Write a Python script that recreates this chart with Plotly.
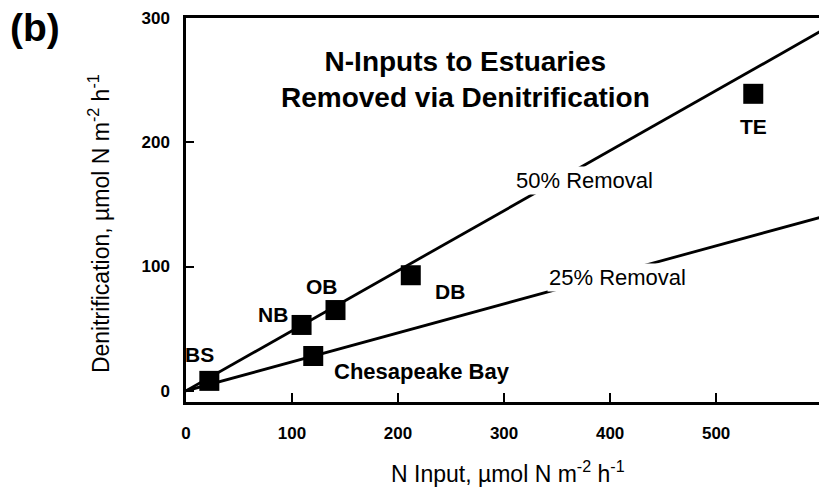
import plotly.graph_objects as go

# Data
sites = ["BS", "NB", "OB", "DB", "Chesapeake Bay", "TE"]
n_input = [22, 109, 141, 212, 120, 535]
denitrification = [8, 53, 65, 93, 28, 239]

line_x = [0, 600]
removal_50 = [0, 290]
removal_25 = [0, 140]

x_ticks = [0, 100, 200, 300, 400, 500]
y_ticks = [0, 100, 200, 300]

FONT = "Liberation Sans, Arial, Helvetica, sans-serif"

fig = go.Figure()
fig.add_trace(go.Scatter(x=line_x, y=removal_50, mode="lines",
                         line=dict(color="black", width=2.8), hoverinfo="skip"))
fig.add_trace(go.Scatter(x=line_x, y=removal_25, mode="lines",
                         line=dict(color="black", width=2.8), hoverinfo="skip"))
fig.add_trace(go.Scatter(x=n_input, y=denitrification, mode="markers",
                         marker=dict(symbol="square", size=20, color="black"),
                         text=sites))

# Site labels (offsets in pixels)
label_pos = {
    "BS": (-10, 26, "center"),
    "NB": (-29, 10, "center"),
    "OB": (-14, 24, "center"),
    "DB": (39, -16, "center"),
    "Chesapeake Bay": (19, -15, "left"),
    "TE": (0, -33, "center"),
}
for s, x, y in zip(sites, n_input, denitrification):
    dx, dy, anc = label_pos[s]
    fsize = 22 if s == "Chesapeake Bay" else 21
    fig.add_annotation(x=x, y=y, text=f"<b>{s}</b>", showarrow=False,
                       xshift=dx, yshift=dy, xanchor=anc, yanchor="middle",
                       font=dict(size=fsize, color="black", family=FONT))

# Line labels with white background to break the lines
fig.add_annotation(x=0.630, y=0.578, xref="paper", yref="paper", text="50% Removal",
                   showarrow=False, bgcolor="white", xanchor="center", yanchor="middle",
                   font=dict(size=22, color="black", family=FONT))
fig.add_annotation(x=0.682, y=0.323, xref="paper", yref="paper", text="25% Removal",
                   showarrow=False, bgcolor="white", xanchor="center", yanchor="middle",
                   font=dict(size=22, color="black", family=FONT))

# Inset title
fig.add_annotation(x=0.442, y=0.839, xref="paper", yref="paper",
                   text="<b>N-Inputs to Estuaries<br>Removed via Denitrification</b>",
                   showarrow=False, align="center", xanchor="center", yanchor="middle",
                   font=dict(size=28, color="black", family=FONT))

# Panel label
fig.add_annotation(x=-0.2385, y=0.974, xref="paper", yref="paper", text="<b>(b)</b>",
                   showarrow=False, xanchor="center", yanchor="middle",
                   font=dict(size=39, color="black", family=FONT))

# Axis titles
fig.add_annotation(x=0.509, y=-0.182, xref="paper", yref="paper",
                   text="N Input, µmol N m<sup>-2</sup> h<sup>-1</sup>",
                   showarrow=False, xanchor="center", yanchor="middle",
                   font=dict(size=23, color="black", family=FONT))
fig.add_annotation(x=-0.137, y=0.464, xref="paper", yref="paper",
                   text="Denitrification, µmol N m<sup>-2</sup> h<sup>-1</sup>",
                   showarrow=False, textangle=-90, xanchor="center", yanchor="middle",
                   font=dict(size=23, color="black", family=FONT))

fig.update_layout(
    width=819, height=487,
    margin=dict(l=186, r=0, t=18, b=85),
    plot_bgcolor="white", paper_bgcolor="white",
    showlegend=False,
    font=dict(family=FONT, color="black"),
)
fig.update_xaxes(range=[0, 597], tickvals=x_ticks, showgrid=False, zeroline=False,
                 showline=True, linecolor="black", linewidth=2.5, mirror=True,
                 ticks="inside", ticklen=9, tickwidth=2, tickcolor="black",
                 ticklabelstandoff=14,
                 tickfont=dict(size=17, family=FONT, color="black", weight="bold"))
fig.update_yaxes(range=[-9, 300], tickvals=y_ticks, showgrid=False, zeroline=False,
                 showline=True, linecolor="black", linewidth=2.5,
                 ticks="inside", ticklen=8, tickwidth=2, tickcolor="black",
                 ticklabelstandoff=10,
                 tickfont=dict(size=17, family=FONT, color="black", weight="bold"))

fig.write_html("out.html", config={"displayModeBar": False},
               post_script="document.body.style.margin='0px';document.body.style.overflow='hidden';")
